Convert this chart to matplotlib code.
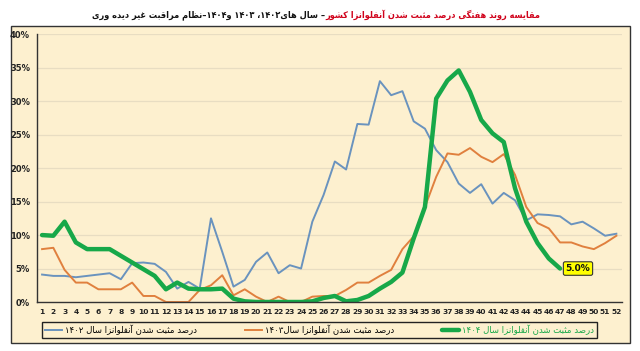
import re
import matplotlib
matplotlib.use("Agg")
from matplotlib import pyplot as plt
from matplotlib.patches import Rectangle

weeks = list(range(1, 53))
y1402 = [4.1, 3.9, 3.9, 3.7, 3.9, 4.1, 4.3, 3.4, 5.8, 5.9,
         5.7, 4.5, 2.0, 3.0, 2.0, 12.5, 7.5, 2.3, 3.3, 6.0,
         7.4, 4.3, 5.5, 5.0, 12.0, 16.0, 21.0, 19.8, 26.6, 26.5,
         33.0, 30.9, 31.5, 27.0, 25.9, 22.7, 20.9, 17.7, 16.3, 17.6,
         14.7, 16.3, 15.2, 12.2, 13.1, 13.0, 12.8, 11.6, 12.0, 11.0,
         9.9, 10.2]
y1403 = [7.9, 8.1, 4.8, 2.9, 2.9, 1.9, 1.9, 1.9, 2.9, 0.9,
         0.9, 0.0, 0.0, 0.0, 1.8, 2.5, 4.0, 1.0, 1.9, 0.8,
         0.0, 0.8, 0.0, 0.0, 0.8, 0.9, 0.9, 1.8, 2.9, 2.9,
         3.9, 4.8, 7.9, 9.8, 14.2, 18.7, 22.2, 22.0, 23.0, 21.7,
         20.9, 22.1, 19.0, 14.2, 11.8, 11.0, 8.9, 8.9, 8.3, 7.9,
         8.8, 9.9]
y1404 = [10.0, 9.9, 12.0, 8.9, 7.9, 7.9, 7.9, 6.9, 5.9, 4.9,
         3.9, 1.9, 2.9, 2.0, 1.9, 1.9, 2.0, 0.5, 0.1, 0.0,
         0.0, 0.0, 0.0, 0.0, 0.1, 0.6, 0.9, 0.1, 0.3, 0.9,
         2.0, 3.0, 4.4, 9.5, 14.2, 30.4, 33.1, 34.6, 31.4, 27.2,
         25.2, 23.9, 17.0, 12.0, 8.8, 6.5, 5.0]
yticks = [0, 5, 10, 15, 20, 25, 30, 35, 40]

title_red = "مقایسه روند هفتگی درصد مثبت شدن آنفلوانزا کشور"
title_black = "– سال های۱۴۰۲، ۱۴۰۳ و۱۴۰۴–نظام مراقبت غیر دیده وری"
lbl1402 = "درصد مثبت شدن آنفلوانزا سال ۱۴۰۲"
lbl1403 = "درصد مثبت شدن آنفلوانزا سال۱۴۰۳"
lbl1404 = "درصد مثبت شدن آنفلوانزا سال ۱۴۰۴"

# --- tiny arabic/persian shaper (matplotlib has no bidi/shaping) ---
FORMS = {
    'ا': (0xFE8D, 0xFE8E, None, None), 'آ': (0xFE81, 0xFE82, None, None),
    'ب': (0xFE8F, 0xFE90, 0xFE91, 0xFE92), 'پ': (0xFB56, 0xFB57, 0xFB58, 0xFB59),
    'ت': (0xFE95, 0xFE96, 0xFE97, 0xFE98), 'ث': (0xFE99, 0xFE9A, 0xFE9B, 0xFE9C),
    'ج': (0xFE9D, 0xFE9E, 0xFE9F, 0xFEA0), 'چ': (0xFB7A, 0xFB7B, 0xFB7C, 0xFB7D),
    'ح': (0xFEA1, 0xFEA2, 0xFEA3, 0xFEA4), 'خ': (0xFEA5, 0xFEA6, 0xFEA7, 0xFEA8),
    'د': (0xFEA9, 0xFEAA, None, None), 'ذ': (0xFEAB, 0xFEAC, None, None),
    'ر': (0xFEAD, 0xFEAE, None, None), 'ز': (0xFEAF, 0xFEB0, None, None),
    'ژ': (0xFB8A, 0xFB8B, None, None),
    'س': (0xFEB1, 0xFEB2, 0xFEB3, 0xFEB4), 'ش': (0xFEB5, 0xFEB6, 0xFEB7, 0xFEB8),
    'ص': (0xFEB9, 0xFEBA, 0xFEBB, 0xFEBC), 'ض': (0xFEBD, 0xFEBE, 0xFEBF, 0xFEC0),
    'ط': (0xFEC1, 0xFEC2, 0xFEC3, 0xFEC4), 'ظ': (0xFEC5, 0xFEC6, 0xFEC7, 0xFEC8),
    'ع': (0xFEC9, 0xFECA, 0xFECB, 0xFECC), 'غ': (0xFECD, 0xFECE, 0xFECF, 0xFED0),
    'ف': (0xFED1, 0xFED2, 0xFED3, 0xFED4), 'ق': (0xFED5, 0xFED6, 0xFED7, 0xFED8),
    'ک': (0xFB8E, 0xFB8F, 0xFB90, 0xFB91), 'گ': (0xFB92, 0xFB93, 0xFB94, 0xFB95),
    'ل': (0xFEDD, 0xFEDE, 0xFEDF, 0xFEE0), 'م': (0xFEE1, 0xFEE2, 0xFEE3, 0xFEE4),
    'ن': (0xFEE5, 0xFEE6, 0xFEE7, 0xFEE8), 'و': (0xFEED, 0xFEEE, None, None),
    'ه': (0xFEE9, 0xFEEA, 0xFEEB, 0xFEEC), 'ی': (0xFBFC, 0xFBFD, 0xFBFE, 0xFBFF),
}


def fa(s):
    s = s.replace('ي', 'ی').replace('ك', 'ک')
    out = []
    for i, c in enumerate(s):
        if c not in FORMS:
            out.append(c)
            continue
        f = FORMS[c]
        prev = s[i - 1] if i > 0 else ''
        nxt = s[i + 1] if i + 1 < len(s) else ''
        jp = prev in FORMS and FORMS[prev][2] is not None
        jn = nxt in FORMS and f[2] is not None
        if jp and jn:
            cp = f[3]
        elif jp:
            cp = f[1]
        elif jn:
            cp = f[2]
        else:
            cp = f[0]
        out.append(chr(cp))
    s = ''.join(out)
    toks = re.findall(r'[0-9۰-۹.%]+|[^0-9۰-۹.%]+', s)
    toks = [t if re.match(r'[0-9۰-۹]', t) else t[::-1] for t in toks]
    return ''.join(toks[::-1])


plt.rcParams['font.family'] = ['DejaVu Sans']

fig = plt.figure(figsize=(6.4, 3.51), dpi=100)
fig.patch.set_facecolor('white')
frame = Rectangle((11 / 640, 1 - 343 / 351), 619 / 640, 317 / 351,
                  transform=fig.transFigure, facecolor='#FDF0CF',
                  edgecolor='#333333', linewidth=1.0, zorder=-10)
fig.patches.append(frame)

ax = fig.add_axes([37 / 640, 1 - 302 / 351, 585 / 640, 267.7 / 351])
ax.set_zorder(1)
ax.set_facecolor('none')
ax.set_xlim(0.55, 52.5)
ax.set_ylim(0, 40)
ax.set_yticks(yticks)
ax.set_yticklabels([f"{v}%" for v in yticks])
ax.set_xticks(weeks)
ax.tick_params(length=0, colors='#222222')
ax.tick_params(axis='y', pad=5, labelsize=6)
ax.tick_params(axis='x', pad=5, labelsize=5.4)
for t in ax.get_xticklabels() + ax.get_yticklabels():
    t.set_fontweight('bold')
ax.grid(axis='y', color='#E8DDC2', linewidth=0.9)
ax.set_axisbelow(True)
for s in ['top', 'right']:
    ax.spines[s].set_visible(False)
for s in ['left', 'bottom']:
    ax.spines[s].set_color('#333333')
    ax.spines[s].set_linewidth(1.0)

l1, = ax.plot(weeks, y1402, color='#6A93BE', lw=1.4, solid_joinstyle='round')
l2, = ax.plot(weeks, y1403, color='#E0803E', lw=1.4, solid_joinstyle='round')
l3, = ax.plot(weeks[:len(y1404)], y1404, color='#17A849', lw=3.2,
              solid_joinstyle='round', solid_capstyle='round')

ax.annotate(f"{y1404[-1]:.1f}%", (len(y1404), y1404[-1]), xytext=(4, 0),
            textcoords='offset points', ha='left', va='center', fontsize=6.5,
            fontweight='bold', color='#111111',
            bbox=dict(boxstyle='round,pad=0.25,rounding_size=0.2',
                      fc='#FFFF00', ec='#333333', lw=0.8))

leg = fig.legend([l1, l2, l3], [fa(lbl1402), fa(lbl1403), fa(lbl1404)],
                 loc='center', bbox_to_anchor=(319.5 / 640, 1 - 330 / 351),
                 ncol=3, prop={'size': 6.8, 'stretch': 'condensed'},
                 frameon=True, fancybox=False,
                 edgecolor='#222222', facecolor='#FDF0CF', framealpha=1,
                 handlelength=1.8, handletextpad=0.4, columnspacing=5.0,
                 borderpad=0.3)
leg.get_frame().set_linewidth(1.0)
leg.get_texts()[2].set_color('#17A849')

tr = fig.text(540 / 640, 1 - 15 / 351, fa(title_red), ha='right', va='center',
              fontsize=6.6, fontweight='bold', fontstretch='condensed',
              color='#D0021B')
fig.canvas.draw()
bb = tr.get_window_extent(fig.canvas.get_renderer())
fig.text(bb.x0 / fig.bbox.width, 1 - 15 / 351, fa(title_black), ha='right',
         va='center', fontsize=6.6, fontweight='bold', fontstretch='condensed',
         color='#111111')

fig.savefig('out.png', dpi=100)
